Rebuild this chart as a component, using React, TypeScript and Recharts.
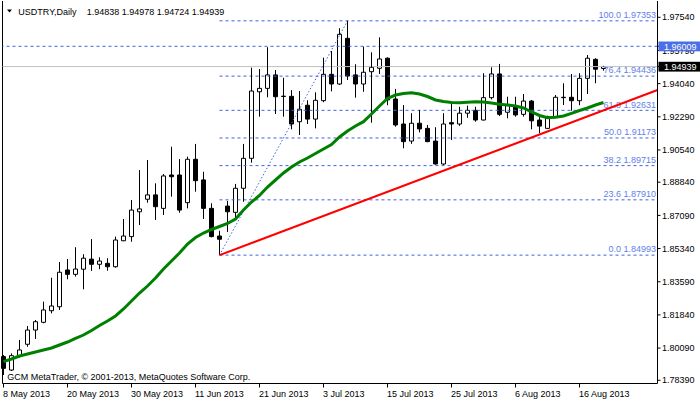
import React from 'react';
import { ComposedChart, Line, XAxis, YAxis, ReferenceLine, ReferenceArea } from 'recharts';

// ---- data ----
const opens = [
  1.7964, 1.7893, 1.7969, 1.8029, 1.8104, 1.8145, 1.8206, 1.8227, 1.8421, 1.8398,
  1.8425, 1.8478, 1.8451, 1.8456, 1.8438, 1.8575, 1.8597, 1.8728, 1.8794, 1.8817,
  1.8746, 1.8922, 1.8922, 1.8776, 1.9005, 1.8896, 1.8746, 1.8600, 1.8758, 1.8725,
  1.8852, 1.9010, 1.9361, 1.9379, 1.9450, 1.9338, 1.9337, 1.9203, 1.9290, 1.9217,
  1.9314, 1.9453, 1.9402, 1.9643, 1.9450, 1.9402, 1.9467, 1.9485, 1.9538, 1.9323,
  1.9191, 1.9101, 1.9195, 1.9168, 1.9101, 1.8980, 1.9198, 1.9191, 1.9248, 1.9263,
  1.9212, 1.9330, 1.9455, 1.9253, 1.9288, 1.9242, 1.9312, 1.9212, 1.9168, 1.9230,
  1.9332, 1.9332, 1.9314, 1.9432, 1.9532, 1.94838,
];
const highs = [
  1.7972, 1.7981, 1.8052, 1.8125, 1.8157, 1.8254, 1.8380, 1.8463, 1.8479, 1.8541,
  1.8504, 1.8584, 1.8488, 1.8483, 1.8597, 1.8690, 1.8790, 1.8948, 1.9001, 1.8878,
  1.8927, 1.9071, 1.9006, 1.9019, 1.9086, 1.8939, 1.8773, 1.8628, 1.8785, 1.8875,
  1.9086, 1.9488, 1.9481, 1.9596, 1.9476, 1.9435, 1.9370, 1.9365, 1.9316, 1.9358,
  1.9541, 1.9576, 1.9696, 1.97353, 1.9506, 1.9599, 1.9569, 1.9648, 1.9543, 1.9376,
  1.9291, 1.9248, 1.9265, 1.9186, 1.9174, 1.9248, 1.9309, 1.9282, 1.9288, 1.9282,
  1.9459, 1.9490, 1.9508, 1.9335, 1.9335, 1.9349, 1.9318, 1.9233, 1.9235, 1.9344,
  1.9406, 1.9455, 1.9459, 1.9555, 1.9538, 1.94978,
];
const lows = [
  1.7867, 1.7888, 1.7959, 1.8016, 1.8057, 1.8140, 1.8192, 1.8210, 1.8372, 1.8386,
  1.8319, 1.8416, 1.8425, 1.8417, 1.8433, 1.8573, 1.8570, 1.8658, 1.8776, 1.8685,
  1.8711, 1.8808, 1.8723, 1.8746, 1.8834, 1.8690, 1.8593, 1.84993, 1.8621, 1.8685,
  1.8781, 1.8987, 1.9230, 1.9332, 1.9244, 1.9230, 1.9163, 1.9133, 1.9191, 1.9168,
  1.9306, 1.9363, 1.9397, 1.9423, 1.9330, 1.9361, 1.9198, 1.9455, 1.9290, 1.9177,
  1.9063, 1.9086, 1.9147, 1.9095, 1.8977, 1.8975, 1.9107, 1.9181, 1.9224, 1.9203,
  1.9210, 1.9321, 1.9233, 1.9221, 1.9230, 1.9230, 1.9163, 1.9142, 1.9165, 1.9226,
  1.9291, 1.9261, 1.9290, 1.9349, 1.9406, 1.94724,
];
const closes = [
  1.7902, 1.7969, 1.7999, 1.8104, 1.8148, 1.8210, 1.8231, 1.8409, 1.8398, 1.8426,
  1.8483, 1.8451, 1.8468, 1.8438, 1.8579, 1.8600, 1.8737, 1.8743, 1.8817, 1.8755,
  1.8917, 1.8913, 1.8737, 1.9005, 1.8892, 1.8746, 1.8597, 1.8583, 1.8728, 1.8852,
  1.9010, 1.9365, 1.9379, 1.9450, 1.9335, 1.9336, 1.9191, 1.9269, 1.9217, 1.9316,
  1.9453, 1.9402, 1.9664, 1.9444, 1.9402, 1.9464, 1.9490, 1.9534, 1.9318, 1.9186,
  1.9098, 1.9195, 1.9165, 1.9098, 1.8980, 1.9191, 1.9191, 1.9248, 1.9263, 1.9212,
  1.9330, 1.9455, 1.9242, 1.9288, 1.9239, 1.9312, 1.9208, 1.9180, 1.9230, 1.9332,
  1.9330, 1.9314, 1.9432, 1.9538, 1.9480, 1.94939,
];
const maValues = [
  1.79371, 1.79513, 1.79672, 1.79777, 1.79883, 1.79988, 1.80094, 1.80252, 1.80410, 1.80595,
  1.80779, 1.81017, 1.81281, 1.81518, 1.81782, 1.82151, 1.82573, 1.82995, 1.83364, 1.83786,
  1.84261, 1.84683, 1.85105, 1.85580, 1.85923, 1.86160, 1.86345, 1.86503, 1.86662, 1.86899,
  1.87374, 1.87796, 1.88139, 1.88587, 1.88956, 1.89326, 1.89642, 1.89906, 1.90117, 1.90354,
  1.90592, 1.90829, 1.91225, 1.91541, 1.91805, 1.92032, 1.92438, 1.92860, 1.93256, 1.93440,
  1.93520, 1.93562, 1.93493, 1.93361, 1.93177, 1.93098, 1.93045, 1.93034, 1.93055, 1.93082,
  1.93071, 1.93018, 1.92950, 1.92913, 1.92860, 1.92755, 1.92544, 1.92359, 1.92243, 1.92269,
  1.92333, 1.92475, 1.92623, 1.92755, 1.92913, 1.93045,
];

const xTickBars = [0, 8, 16, 24, 32, 40, 48, 56, 64, 72];
const xTickLabels = [
  '8 May 2013', '20 May 2013', '30 May 2013', '11 Jun 2013', '21 Jun 2013',
  '3 Jul 2013', '15 Jul 2013', '25 Jul 2013', '6 Aug 2013', '16 Aug 2013',
];
const yTicks = [1.7839, 1.8009, 1.8184, 1.8359, 1.8534, 1.8709, 1.8884, 1.9054, 1.9229, 1.9404, 1.9579, 1.9754];

const fibLevels = ['0.0', '23.6', '38.2', '50.0', '61.8', '76.4', '100.0'];
const fibValues = [1.84993, 1.8791, 1.89715, 1.91173, 1.92631, 1.94436, 1.97353];
const fibBars = [27, 43];
const trendBars = [27, 81.75];
const trendValues = [1.84993, 1.93706];
const hLineValue = 1.96009;
const lastPrice = 1.94939;
const titleSymbol = 'USDTRY,Daily';
const titleQuote = [1.94838, 1.94978, 1.94724, 1.94939];

const xDomain: [number, number] = [-0.125, 81.75];
const yDomain: [number, number] = [1.78221, 1.98399];

const chartData = maValues.map((ma, i) => ({ bar: i, ma }));
// axis ticks: the regular price grid, then the two marker boxes drawn last (on top)
const yAxisTicks = [...yTicks, hLineValue, lastPrice];

// ---- styles ----
const FONT = '"Liberation Sans", Arial, sans-serif';
const FIB_LINE = '#3F63E2';
const FIB_TEXT = '#5F80EA';
const HLINE_BOX = '#4A6FE6';

const fibLabel = (text: string) => (props: any) => {
  const vb = props.viewBox || {};
  return (
    <text x={vb.x + vb.width - 1.5} y={vb.y - 2.8} textAnchor="end" fontSize={9} fontFamily={FONT} fill={FIB_TEXT}>
      {text}
    </text>
  );
};

const XTick = (props: any) => {
  const { x, y, payload } = props;
  const idx = xTickBars.indexOf(payload.value);
  return (
    <text x={x - 0.5} y={y + 7.5} fontSize={9} fontFamily={FONT} fill="#000" textAnchor="start">
      {xTickLabels[idx]}
    </text>
  );
};

const YTick = (props: any) => {
  const { x, y, payload } = props;
  const v = payload.value;
  const label = Number(v).toFixed(5);
  if (v === hLineValue || v === lastPrice) {
    const bg = v === hLineValue ? HLINE_BOX : '#000000';
    return (
      <g>
        <rect x={x - 3.5} y={y - 4.8} width={46} height={9.8} fill={bg} />
        <text x={x + 2} y={y + 3.3} fontSize={9} fontFamily={FONT} fill="#ffffff">
          {label}
        </text>
      </g>
    );
  }
  return (
    <text x={x} y={y + 3.2} fontSize={9} fontFamily={FONT} fill="#000" textAnchor="start">
      {label}
    </text>
  );
};

export default function App() {
  return (
    <div style={{ position: 'relative', width: 700, height: 402, background: '#fff' }}>
      <style>{`body{margin:0;background:#fff}`}</style>
      <ComposedChart
        width={700}
        height={402}
        data={chartData}
        margin={{ top: 1, right: 0, bottom: 0, left: 2.5 }}
      >
        <XAxis
          dataKey="bar"
          type="number"
          domain={xDomain}
          allowDataOverflow
          ticks={xTickBars}
          interval={0}
          tickSize={4}
          tickLine={{ stroke: '#000' }}
          axisLine={{ stroke: '#000' }}
          height={18.5}
          tick={<XTick />}
        />
        <YAxis
          orientation="right"
          type="number"
          domain={yDomain}
          allowDataOverflow
          ticks={yAxisTicks}
          interval={0}
          width={42.5}
          tickSize={3}
          tickMargin={1.5}
          tickLine={{ stroke: '#000' }}
          axisLine={{ stroke: '#000' }}
          tick={<YTick />}
        />
        <ReferenceLine x={xDomain[0]} stroke="#000" strokeWidth={1} ifOverflow="visible" />
        <ReferenceLine y={lastPrice} stroke="#C0C0C0" strokeWidth={1} />
        <ReferenceLine y={hLineValue} stroke={FIB_LINE} strokeWidth={1} strokeDasharray="3 3" />
        {fibValues.map((v, k) => (
          <ReferenceLine
            key={'fib' + k}
            segment={[{ x: fibBars[0], y: v }, { x: xDomain[1], y: v }]}
            stroke={FIB_LINE}
            strokeWidth={1}
            strokeDasharray="3 3"
            ifOverflow="visible"
            label={fibLabel(fibLevels[k] + ' ' + v.toFixed(5))}
          />
        ))}
        <ReferenceLine
          segment={[{ x: fibBars[0], y: fibValues[0] }, { x: fibBars[1], y: fibValues[fibValues.length - 1] }]}
          stroke={FIB_LINE}
          strokeWidth={1}
          strokeDasharray="1.5 2"
          ifOverflow="visible"
        />
        {opens.map((o, i) => {
          const c = closes[i];
          const top = Math.max(o, c);
          const bot = Math.min(o, c);
          return (
            <React.Fragment key={'c' + i}>
              <ReferenceLine segment={[{ x: i, y: top }, { x: i, y: highs[i] }]} stroke="#000" strokeWidth={1} ifOverflow="visible" />
              <ReferenceLine segment={[{ x: i, y: lows[i] }, { x: i, y: bot }]} stroke="#000" strokeWidth={1} ifOverflow="visible" />
              <ReferenceArea
                x1={i - 0.25}
                x2={i + 0.25}
                y1={bot}
                y2={top}
                fill={c < o ? '#000' : '#fff'}
                fillOpacity={1}
                stroke="#000"
                strokeWidth={1}
                ifOverflow="visible"
              />
            </React.Fragment>
          );
        })}
        <Line
          dataKey="ma"
          type="linear"
          stroke="#008000"
          strokeWidth={3}
          dot={false}
          activeDot={false}
          isAnimationActive={false}
        />
        <ReferenceLine
          segment={[{ x: trendBars[0], y: trendValues[0] }, { x: trendBars[1], y: trendValues[1] }]}
          stroke="#FF0000"
          strokeWidth={2}
          ifOverflow="visible"
        />
      </ComposedChart>
      <svg
        width={700}
        height={402}
        style={{ position: 'absolute', left: 0, top: 0, pointerEvents: 'none' }}
      >
        <polygon points="7,9.5 12,9.5 9.5,12.5" fill="#000" />
        <text x={18.3} y={14.5} fontSize={9} fontFamily={FONT} fill="#000">
          {titleSymbol}
        </text>
        <text x={86.7} y={14.5} fontSize={9} fontFamily={FONT} fill="#000">
          {titleQuote.map((q) => q.toFixed(5)).join(' ')}
        </text>
        <text x={7.3} y={379.5} fontSize={9} fontFamily={FONT} fill="#000">
          GCM MetaTrader, © 2001-2013, MetaQuotes Software Corp.
        </text>
      </svg>
    </div>
  );
}
